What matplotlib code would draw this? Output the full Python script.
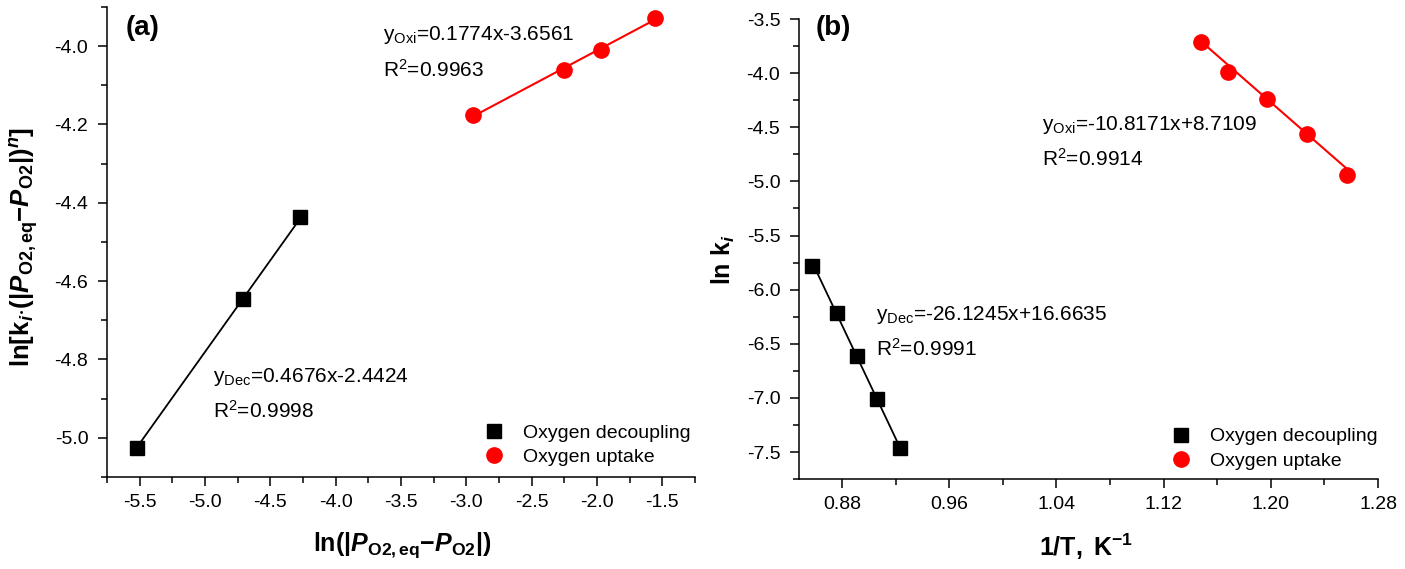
import numpy as np
import matplotlib
matplotlib.use("Agg")
import matplotlib.pyplot as plt
from matplotlib.ticker import MultipleLocator, FormatStrFormatter

plt.rcParams['font.family'] = ['Liberation Sans', 'DejaVu Sans']
plt.rcParams['mathtext.fontset'] = 'custom'
plt.rcParams['mathtext.rm'] = 'Liberation Sans'
plt.rcParams['mathtext.it'] = 'Liberation Sans:italic'
plt.rcParams['mathtext.bf'] = 'Liberation Sans:bold'
plt.rcParams['mathtext.bfit'] = 'Liberation Sans:italic:bold'
plt.rcParams['axes.unicode_minus'] = False

# ---- data: panel (a) ----
a_dec_x = [-5.52, -4.71, -4.27]
a_dec_y = [-5.025, -4.645, -4.435]
a_oxi_x = [-2.95, -2.25, -1.97, -1.56]
a_oxi_y = [-4.176, -4.060, -4.010, -3.929]
a_fit_dec = (0.4676, -2.4424)
a_fit_oxi = (0.1774, -3.6561)

# ---- data: panel (b) ----
b_dec_x = [0.858, 0.876, 0.891, 0.906, 0.923]
b_dec_y = [-5.78, -6.22, -6.61, -7.01, -7.46]
b_oxi_x = [1.148, 1.168, 1.197, 1.227, 1.257]
b_oxi_y = [-3.71, -3.99, -4.24, -4.56, -4.94]
b_fit_dec = (-26.1245, 16.6635)
b_fit_oxi = (-10.8171, 8.7109)

labels = ['Oxygen decoupling', 'Oxygen uptake']
RED = '#ff0000'

fig = plt.figure(figsize=(14.05, 5.69), dpi=100)
axa = fig.add_axes([0.0762, 0.1617, 0.4185, 0.826])
axb = fig.add_axes([0.5687, 0.158, 0.4121, 0.8086])

def style(ax):
    for s in ['top', 'right']:
        ax.spines[s].set_visible(False)
    for s in ['left', 'bottom']:
        ax.spines[s].set_linewidth(1.1)
    ax.tick_params(which='major', direction='out', length=6.5, width=1.1, labelsize=14)
    ax.tick_params(axis='y', which='major', pad=7)
    ax.tick_params(axis='x', which='major', pad=6)
    ax.tick_params(which='minor', direction='out', length=4, width=1.1)

def fitline(ax, xs, fit, color, lw):
    x = np.array([min(xs), max(xs)])
    ax.plot(x, fit[0] * x + fit[1], color=color, lw=lw, zorder=2)

TXT = 15

# panel (a)
style(axa)
fitline(axa, a_dec_x, a_fit_dec, 'black', 1.3)
fitline(axa, a_oxi_x, a_fit_oxi, RED, 1.5)
axa.plot(a_dec_x, a_dec_y, 's', color='black', ms=10, ls='none', label=labels[0], zorder=3)
axa.plot(a_oxi_x, a_oxi_y, 'o', color=RED, ms=11, ls='none', label=labels[1], zorder=3)
axa.set_xlim(-5.75, -1.25)
axa.set_ylim(-5.1, -3.9)
axa.xaxis.set_major_locator(MultipleLocator(0.5))
axa.xaxis.set_minor_locator(MultipleLocator(0.25))
axa.yaxis.set_major_locator(MultipleLocator(0.2))
axa.yaxis.set_minor_locator(MultipleLocator(0.1))
axa.xaxis.set_major_formatter(FormatStrFormatter('%.1f'))
axa.yaxis.set_major_formatter(FormatStrFormatter('%.1f'))
axa.set_xlabel(r'$\mathbf{ln(|}\mathbfit{P}_{\mathbf{O2,eq}}\mathbf{-}\mathbfit{P}_{\mathbf{O2}}\mathbf{|)}$', fontsize=18)
axa.set_ylabel(r'$\mathbf{ln[k}_{\mathbfit{i}}\mathbf{\cdot(|}\mathbfit{P}_{\mathbf{O2,eq}}\mathbf{-}\mathbfit{P}_{\mathbf{O2}}\mathbf{|)}^{\mathbfit{n}}\mathbf{]}$', fontsize=18.5)
axa.xaxis.set_label_coords(0.502, -0.113)
axa.yaxis.set_label_coords(-0.112, 0.49)
axa.text(0.032, 0.956, '(a)', transform=axa.transAxes, fontsize=20, fontweight='bold', va='center', ha='left')
axa.text(0.469, 0.930, r'y$_{\mathregular{Oxi}}$=0.1774x-3.6561', transform=axa.transAxes, fontsize=TXT, va='baseline')
axa.text(0.469, 0.851, r'R$^{\mathregular{2}}$=0.9963', transform=axa.transAxes, fontsize=TXT, va='baseline')
axa.text(0.180, 0.203, r'y$_{\mathregular{Dec}}$=0.4676x-2.4424', transform=axa.transAxes, fontsize=TXT, va='baseline')
axa.text(0.180, 0.127, r'R$^{\mathregular{2}}$=0.9998', transform=axa.transAxes, fontsize=TXT, va='baseline')
axa.legend(loc='center left', bbox_to_anchor=(0.642, 0.068), frameon=False, fontsize=14,
           handlelength=1.0, handletextpad=1.0, labelspacing=0.35, borderpad=0, borderaxespad=0)

# panel (b)
style(axb)
fitline(axb, b_dec_x, b_fit_dec, 'black', 1.3)
fitline(axb, b_oxi_x, b_fit_oxi, RED, 1.5)
axb.plot(b_dec_x, b_dec_y, 's', color='black', ms=10, ls='none', label=labels[0], zorder=3)
axb.plot(b_oxi_x, b_oxi_y, 'o', color=RED, ms=11, ls='none', label=labels[1], zorder=3)
axb.set_xlim(0.848, 1.28)
axb.set_ylim(-7.75, -3.5)
axb.xaxis.set_major_locator(MultipleLocator(0.08))
axb.xaxis.set_minor_locator(MultipleLocator(0.04))
axb.yaxis.set_major_locator(MultipleLocator(0.5))
axb.yaxis.set_minor_locator(MultipleLocator(0.25))
axb.xaxis.set_major_formatter(FormatStrFormatter('%.2f'))
axb.yaxis.set_major_formatter(FormatStrFormatter('%.1f'))
axb.set_xlabel(r'$\mathbf{1/T,\ K}^{\mathbf{-1}}$', fontsize=18)
axb.set_ylabel(r'$\mathbf{ln\ k}_{\mathbfit{i}}$', fontsize=18)
axb.xaxis.set_label_coords(0.496, -0.115)
axb.yaxis.set_label_coords(-0.107, 0.476)
axb.text(0.029, 0.981, '(b)', transform=axb.transAxes, fontsize=20, fontweight='bold', va='center', ha='left')
axb.text(0.420, 0.759, r'y$_{\mathregular{Oxi}}$=-10.8171x+8.7109', transform=axb.transAxes, fontsize=TXT, va='baseline')
axb.text(0.420, 0.681, r'R$^{\mathregular{2}}$=0.9914', transform=axb.transAxes, fontsize=TXT, va='baseline')
axb.text(0.133, 0.346, r'y$_{\mathregular{Dec}}$=-26.1245x+16.6635', transform=axb.transAxes, fontsize=TXT, va='baseline')
axb.text(0.133, 0.267, r'R$^{\mathregular{2}}$=0.9991', transform=axb.transAxes, fontsize=TXT, va='baseline')
axb.legend(loc='center left', bbox_to_anchor=(0.643, 0.066), frameon=False, fontsize=14,
           handlelength=1.0, handletextpad=1.0, labelspacing=0.35, borderpad=0, borderaxespad=0)

fig.savefig('out.png', dpi=100)
